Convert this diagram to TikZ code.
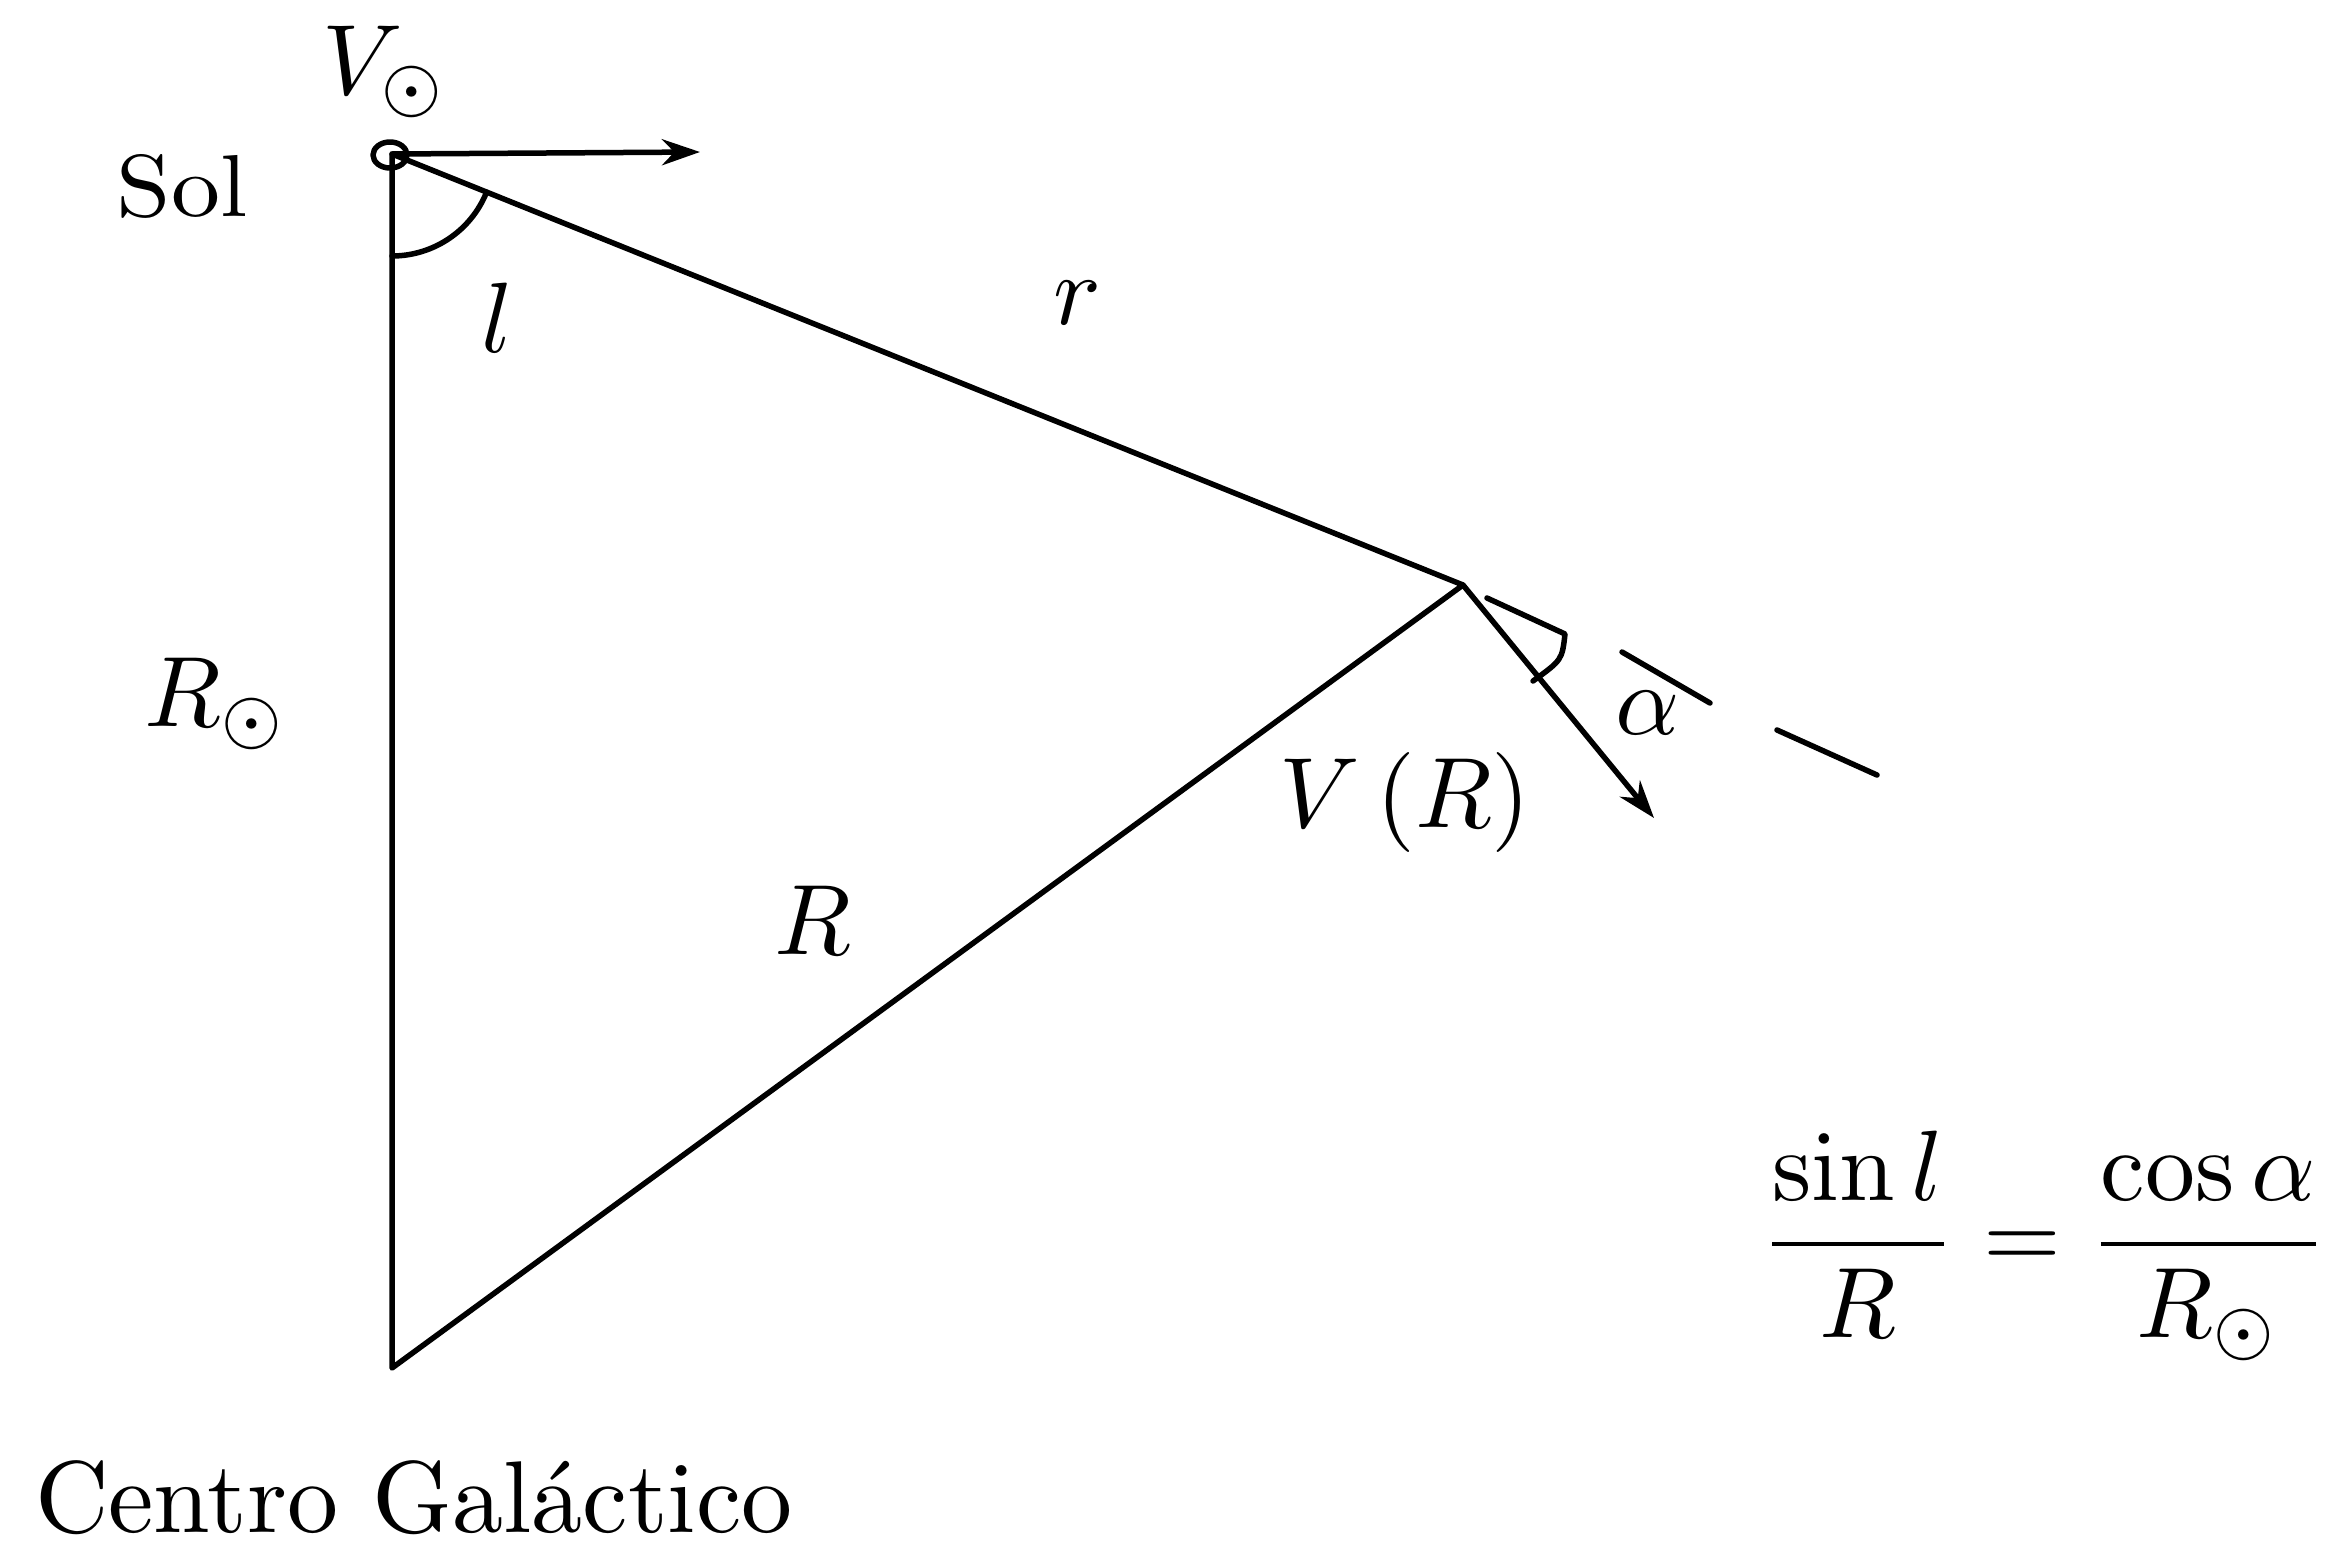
\documentclass[tikz,border=0pt]{standalone}
\usetikzlibrary{arrows.meta}
\begin{document}
\begin{tikzpicture}[x=1pt,y=-1pt,
  ln/.style={line width=5.5pt,line cap=round,line join=round},
  arr/.style={ln,-{Stealth[length=38pt,width=26pt]}},
  lbl/.style={inner sep=0pt,scale=10},
  big/.style={inner sep=0pt,scale=10}]
\useasboundingbox[fill=white] (0,0) rectangle (2339,1550);
% points
\coordinate (S) at (392,154);
\coordinate (C) at (392,1368);
\coordinate (P) at (1463,585);
\coordinate (Vs) at (700,152);
\coordinate (Vr) at (1654,818);
\coordinate (d1a) at (1622,652);
\coordinate (d1b) at (1710,703);
\coordinate (d2a) at (1777,730);
\coordinate (d2b) at (1877,775);
% triangle
\draw[ln] (S) -- (C) -- (P) -- cycle;
\draw[ln] (390,155) ellipse[x radius=17pt,y radius=13pt];
\draw[arr] (S) -- (Vs);
\draw[arr] (P) -- (Vr);
% dashed extension
\draw[ln] (d1a) -- (d1b);
\draw[ln] (d2a) -- (d2b);
% angle l
\draw[ln] ([shift={(0,102)}]S) arc[start angle=-90,end angle=-21.9,radius=102pt];
% angle alpha
\draw[ln] (1487,598) -- (1565,634) .. controls (1562,660) .. (1533,681);
% labels
\node[lbl] (vsun) at (385,72) {$V_\odot$};
\node[inner sep=0pt,xscale=9.8,yscale=8.8] (sol) at (182,186) {Sol};
\node[lbl] (l) at (497,318) {$l$};
\node[lbl] (r) at (1077,303) {$r$};
\node[lbl] (rsun) at (216,704) {$R_\odot$};
\node[lbl] (R) at (813,920) {$R$};
\node[lbl] (vr) at (1405,802) {$V\,(R)$};
\node[lbl] (alpha) at (1648,713) {$\alpha$};
\node[inner sep=0pt,scale=10.2,anchor=base west] (cg) at (33,1532) {Centro Galáctico};
\node[big] (eq) at (2044,1246) {$\displaystyle\frac{\sin l}{R}=\frac{\cos\alpha}{R_\odot}$};
\end{tikzpicture}
\end{document}
